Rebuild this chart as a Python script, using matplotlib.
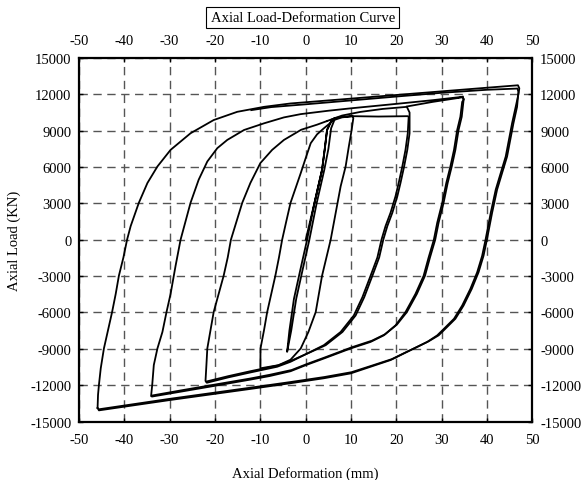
import matplotlib
matplotlib.use("Agg")
from matplotlib import pyplot as plt

plt.rcParams['font.family'] = ['Liberation Serif', 'DejaVu Serif']
plt.rcParams['axes.unicode_minus'] = False

# ---- data (deformation in mm, load in KN) ----
# small loop, amplitude about 5 mm (up branch then down branch)
loop5_x = [0.0, 1.9, 3.6, 4.2, 4.7, 5.8, 6.5, 5.6, 5.0, 4.1, 2.4, 0.8, -0.7, -2.1, -3.2,
           -4.1, -3.6, -2.6, -1.2, 0.3, 1.9, 3.6, 4.2, 4.7, 5.8, 6.5]
loop5_y = [0, 3000, 5780, 7500, 9060, 9930, 10050, 9200, 7500, 5780, 3000, 0, -2500, -4880, -7500,
           -9250, -7500, -4880, -2500, 0, 3000, 5780, 7500, 9060, 9930, 10050]

# loop to about 10 mm
loop10_x = [6.5, 8.0, 10.3, 10.5, 10.1, 9.5, 8.8, 7.7, 5.5, 3.6, 2.2, 0.6, -1.1, -3.35, -6.0, -10.0,
            -9.97, -9.2, -8.5, -7.6, -6.7, -5.9, -5.2, -4.3, -3.35, -2.2, -1.1, 0.0, 1.1, 2.5, 4.0,
            6.2, 8.0, 10.3]
loop10_y = [10050, 10150, 10200, 10050, 9000, 7690, 6050, 4410, 0, -2970, -5970, -7600, -8970, -9900, -10350, -10610,
            -8970, -7470, -5970, -4470, -2970, -1460, 0, 1500, 3050, 4300, 5500, 6750, 7970, 8700, 9200,
            9880, 10100, 10200]

# loop to about 22 mm, first cycle (flat top at ~10200)
loop22a_x = [10.3, 16.0, 22.5, 22.7, 22.5, 22.0, 21.3, 20.5, 19.8, 18.7, 17.6, 16.7, 15.8, 14.3, 12.5,
             10.6, 7.7, 4.0, 0.3, -3.35, -6.3, -12.2, -17.0, -21.8, -22.1, -21.9, -21.7, -21.0, -20.3,
             -19.2, -18.1, -17.2, -16.5, -14.0, -12.2, -10.0, -7.4, -4.8, -1.0, 2.5, 4.7]
loop22a_y = [10200, 10170, 10200, 10150, 8790, 7420, 6050, 4690, 3590, 2230, 1130, 0, -1460, -2970, -4740,
             -6250, -7610, -8700, -9390, -10070, -10480, -10950, -11350, -11800, -11650, -10340, -8970, -7470, -5970,
             -4470, -2970, -1460, 0, 3050, 4690, 6330, 7420, 8240, 9080, 9500, 9800]

# loop to about 22 mm, second cycle (peak ~11000)
loop22b_x = [4.7, 8.0, 12.0, 17.0, 22.3, 22.9, 22.9, 22.4, 21.7, 20.9, 20.2, 19.1, 18.0, 17.1, 16.2,
             14.7, 12.9, 11.0, 8.1, 4.4, 0.6, -3.2, -6.2, -12.2, -17.0, -21.9]
loop22b_y = [9800, 10250, 10550, 10800, 10970, 10500, 8790, 7420, 6050, 4690, 3590, 2230, 1130, 0, -1460,
             -2970, -4740, -6250, -7610, -8700, -9350, -9980, -10380, -10850, -11250, -11700]

# loop to about 35 mm
loop35a_x = [22.3, 28.0, 34.6, 34.9, 34.5, 34.1, 33.4, 32.7, 31.9, 31.0, 30.1, 29.0, 28.25, 27.1, 26.0,
             24.2, 22.0, 19.8, 17.2, 14.3, 9.9, 4.0, 0.0, -3.35, -8.0, -12.2, -20.0, -27.0, -33.9,
             -34.1, -33.85, -33.5, -32.7, -31.6, -30.7, -29.8, -28.7, -27.6, -25.4, -23.6, -21.7, -19.5,
             -17.3, -13.6, -9.2, -4.8, -1.1, 5.0, 10.0, 20.9, 28.0, 34.6]
loop35a_y = [11000, 11380, 11760, 11600, 11380, 10150, 9060, 7420, 6050, 4690, 3050, 1410, 0, -1460, -2970,
             -4470, -5970, -7070, -7890, -8430, -8970, -9800, -10350, -10850, -11250, -11540, -12050, -12500, -12940,
             -12900, -11980, -10340, -8970, -7610, -5970, -4470, -2150, 0, 3050, 4960, 6460, 7560,
             8240, 9060, 9610, 10100, 10370, 10650, 10850, 11250, 11520, 11800]

# second unload from the 35 mm peak
loop35b_x = [34.6, 34.8, 34.4, 33.7, 33.0, 32.2, 31.3, 30.4, 29.3, 28.55, 27.4, 26.3, 24.5, 22.3, 20.1,
             17.5, 14.6, 10.2, 4.3, 0.3, -3.1, -8.0, -12.2, -20.0, -27.0, -33.8]
loop35b_y = [11800, 11500, 10150, 9060, 7420, 6050, 4690, 3050, 1410, 0, -1460, -2970, -4470, -5970, -7000,
             -7800, -8330, -8870, -9700, -10250, -10750, -11150, -11450, -11950, -12400, -12850]

# outer loop, about 47 mm
loop47a_x = [-45.9, -45.8, -45.6, -45.2, -44.5, -43.6, -42.7, -41.9, -41.2, -40.2, -39.4, -38.6, -36.8,
             -34.9, -32.7, -29.8, -25.4, -20.3, -15.1, -9.2, -3.35, 0.0, 10.0, 20.0, 30.0, 40.0, 46.8,
             47.1, 46.9, 46.3, 45.5, 44.8, 44.1, 43.0, 41.9, 40.8, 39.65, 38.9, 37.8, 36.3, 34.5, 32.7,
             30.5, 29.0, 26.8, 24.6, 21.6, 18.7, 14.3, 9.9, 4.0, -3.35, -12.2, -30.0, -45.6, -45.9]
loop47a_y = [-13890, -12800, -11980, -10610, -8970, -7470, -5970, -4470, -2970, -1460, 0, 1130, 3050,
             4690, 6050, 7420, 8790, 9880, 10560, 10970, 11250, 11350, 11650, 11950, 12250, 12550, 12750,
             12500, 12000, 10970, 9610, 8240, 6870, 5510, 4140, 2230, 0, -1330, -2690, -4060, -5430, -6520,
             -7340, -7890, -8430, -8840, -9390, -9930, -10480, -11030, -11430, -11840, -12310, -13230, -14080, -13890]

# second cycle of the outer loop (upper line and unload just inside the first)
loop47b_x = [-12.0, -7.6, 0.0, 10.0, 20.9, 30.0, 40.0, 46.7, 46.9, 46.6, 45.8, 45.1, 44.4, 43.3, 42.2,
             41.1, 39.95, 39.2, 38.1, 36.6, 34.8, 33.0, 30.8, 29.3, 27.1, 24.9, 21.9, 19.0, 14.5, 10.1,
             4.1, -3.3, -12.2, -30.0, -45.4]
loop47b_y = [10700, 10950, 11180, 11500, 11850, 12130, 12380, 12480, 12200, 10970, 9610, 8240, 6870, 5510, 4140,
             2230, 0, -1330, -2690, -4060, -5430, -6520, -7340, -7890, -8380, -8780, -9320, -9850, -10400, -10930,
             -11330, -11740, -12210, -13130, -13980]

x_ticks = list(range(-50, 51, 10))
y_ticks = list(range(-15000, 15001, 3000))

# ---- plotting ----
fig = plt.figure(figsize=(5.82, 4.81), dpi=100)
ax = fig.add_axes([0.1357, 0.1216, 0.7792, 0.7557])

for xs, ys in [(loop5_x, loop5_y), (loop10_x, loop10_y), (loop22a_x, loop22a_y),
               (loop22b_x, loop22b_y), (loop35a_x, loop35a_y), (loop35b_x, loop35b_y),
               (loop47a_x, loop47a_y), (loop47b_x, loop47b_y)]:
    ax.plot(xs, ys, color='black', lw=1.3, solid_joinstyle='round')

ax.set_xlim(-50, 50)
ax.set_ylim(-15000, 15000)
ax.set_xticks(x_ticks)
ax.set_yticks(y_ticks)
ax.grid(True, color='#555555', linestyle=(0, (6, 4)), linewidth=1.0)
ax.tick_params(labeltop=True, labelright=True, top=True, right=True, direction='in',
               length=3, width=1, labelsize=10.5)
ax.tick_params(axis='x', pad=8)
ax.tick_params(axis='y', pad=5.5)
for s in ax.spines.values():
    s.set_linewidth(1.6)

ax.set_xlabel("Axial Deformation (mm)", fontsize=10.5)
ax.set_ylabel("Axial Load (KN)", fontsize=10.5)
ax.xaxis.set_label_coords(0.5, -0.122)
ax.yaxis.set_label_coords(-0.127, 0.5)
fig.text(0.52, 0.962, "Axial Load-Deformation Curve", ha='center', va='center', fontsize=10.5,
         bbox=dict(facecolor='white', edgecolor='black', linewidth=0.8, pad=3))

plt.savefig("out.png", dpi=100)
